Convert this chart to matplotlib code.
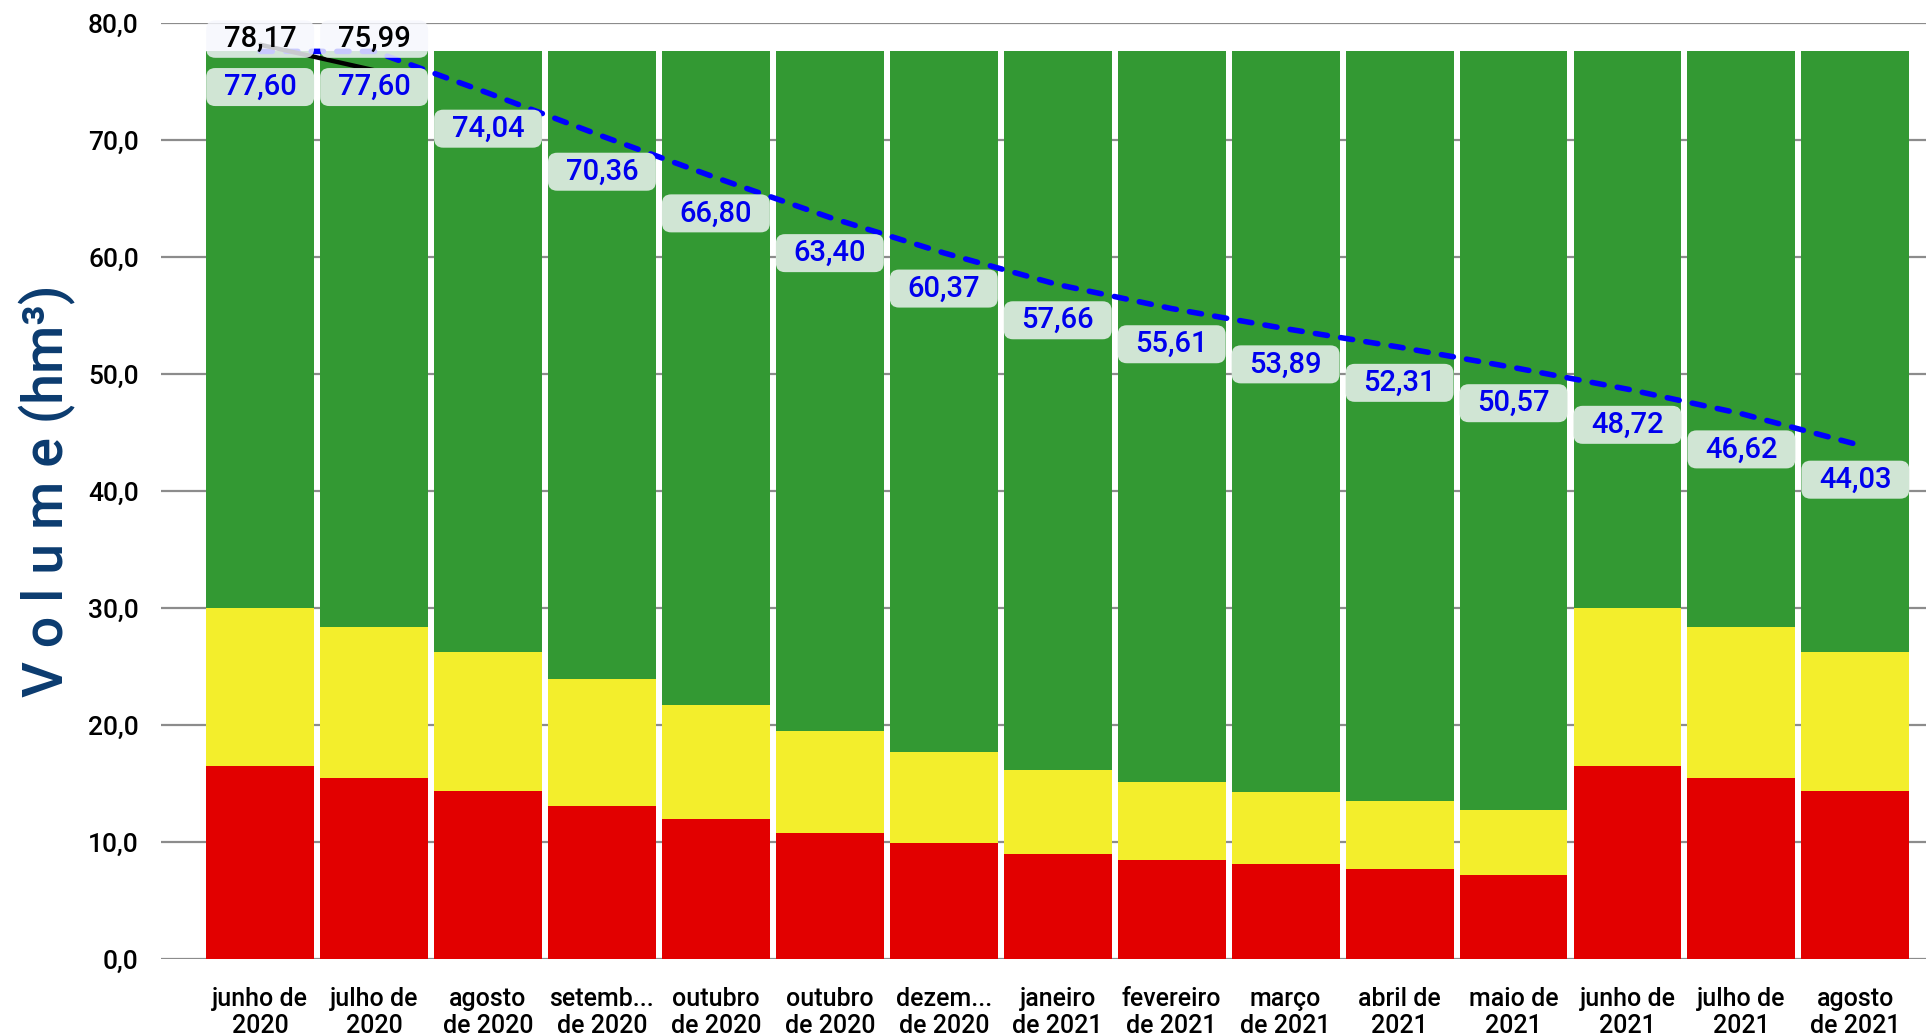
import matplotlib
matplotlib.use("Agg")
import matplotlib.pyplot as plt
from matplotlib.patches import FancyBboxPatch
from matplotlib.ticker import FuncFormatter

categories = ["junho de\n2020", "julho de\n2020", "agosto\nde 2020", "setemb...\nde 2020",
              "outubro\nde 2020", "outubro\nde 2020", "dezem...\nde 2020", "janeiro\nde 2021",
              "fevereiro\nde 2021", "março\nde 2021", "abril de\n2021", "maio de\n2021",
              "junho de\n2021", "julho de\n2021", "agosto\nde 2021"]
red_vals = [16.5, 15.5, 14.4, 13.1, 12.0, 10.8, 9.9, 9.0, 8.5, 8.1, 7.7, 7.2, 16.5, 15.5, 14.4]
yellow_vals = [13.5, 12.9, 11.85, 10.8, 9.7, 8.7, 7.8, 7.2, 6.6, 6.2, 5.8, 5.5, 13.5, 12.9, 11.85]
green_vals = [47.6, 49.2, 51.35, 53.7, 55.9, 58.1, 59.9, 61.4, 62.5, 63.3, 64.1, 64.9, 47.6, 49.2, 51.35]
projected = [77.60, 77.60, 74.04, 70.36, 66.80, 63.40, 60.37, 57.66, 55.61, 53.89, 52.31, 50.57,
             48.72, 46.62, 44.03]
observed = [78.17, 75.99]

FONT = ["Liberation Sans Narrow", "Roboto", "DejaVu Sans"]
plt.rcParams["font.family"] = FONT

W, H = 1926, 1035
fig = plt.figure(figsize=(W / 100, H / 100), dpi=100)
ax = fig.add_axes([161 / W, 76 / H, 1 - 161 / W, (959 - 23.3) / H])

x = list(range(len(categories)))
bw = 0.947
red_c, yel_c, grn_c = "#e20000", "#f3ee2c", "#339933"
bottom2 = [r + y for r, y in zip(red_vals, yellow_vals)]
ax.bar(x, red_vals, width=bw, color=red_c, zorder=2)
ax.bar(x, yellow_vals, width=bw, bottom=red_vals, color=yel_c, zorder=2)
ax.bar(x, green_vals, width=bw, bottom=bottom2, color=grn_c, zorder=2)

ax.plot(x, projected, color="#0000ff", lw=4.0, dashes=(2.2, 2.4), dash_capstyle="round", zorder=3)
ax.plot(x[:len(observed)], observed, color="black", lw=3.2, zorder=4, solid_capstyle="round")

xmin, xmax = -0.87, 14.62
ax.set_xlim(xmin, xmax)
ax.set_ylim(0, 80)

px_x = (W - 161) / (xmax - xmin)
px_y = (959 - 23.3) / 80
aspect = px_x / px_y

box_h = 3.25
for xi, v in zip(x, projected):
    cy = v - 3.05
    p = FancyBboxPatch((xi - bw / 2, cy - box_h / 2), bw, box_h,
                       boxstyle="round,pad=0,rounding_size=0.08", mutation_aspect=aspect,
                       fc="#d0e5d4", ec="none", zorder=5, clip_on=False)
    ax.add_patch(p)
    ax.text(xi, cy, f"{v:.2f}".replace(".", ","), color="#0000ee", fontsize=21,
            fontweight="medium", ha="center", va="center", zorder=6, clip_on=False)

for xi, v in zip(x, observed):
    cy = 78.65
    p = FancyBboxPatch((xi - bw / 2, cy - 1.6), bw, 3.2,
                       boxstyle="round,pad=0,rounding_size=0.08", mutation_aspect=aspect,
                       fc="#f6f7fd", ec="none", alpha=0.82, zorder=5, clip_on=False)
    ax.add_patch(p)
    ax.text(xi, cy, f"{v:.2f}".replace(".", ","), color="black", fontsize=21,
            fontweight="medium", ha="center", va="center", zorder=6, clip_on=False)

ax.set_yticks(range(0, 81, 10))
ax.yaxis.set_major_formatter(FuncFormatter(lambda v, p: f"{v:.1f}".replace(".", ",")))
ax.grid(axis="y", color="#8c8c8c", lw=1.6, zorder=0)
ax.set_axisbelow(True)
for s in ax.spines.values():
    s.set_visible(False)
ax.tick_params(axis="y", length=0, pad=16, labelsize=19)
for t in ax.get_yticklabels():
    t.set_fontweight("medium")
ax.set_xticks(x)
ax.set_xticklabels(categories, fontsize=18, linespacing=1.15, fontweight="medium")
ax.tick_params(axis="x", length=0, pad=20)

fig.text(47 / W, 1 - 491 / H, "V o l u m e (hm³)", rotation=90, ha="center", va="center",
         fontsize=40, fontweight="medium", color="#0b3b6f", family=["Roboto", "DejaVu Sans"])

fig.savefig("out.png", dpi=100)
